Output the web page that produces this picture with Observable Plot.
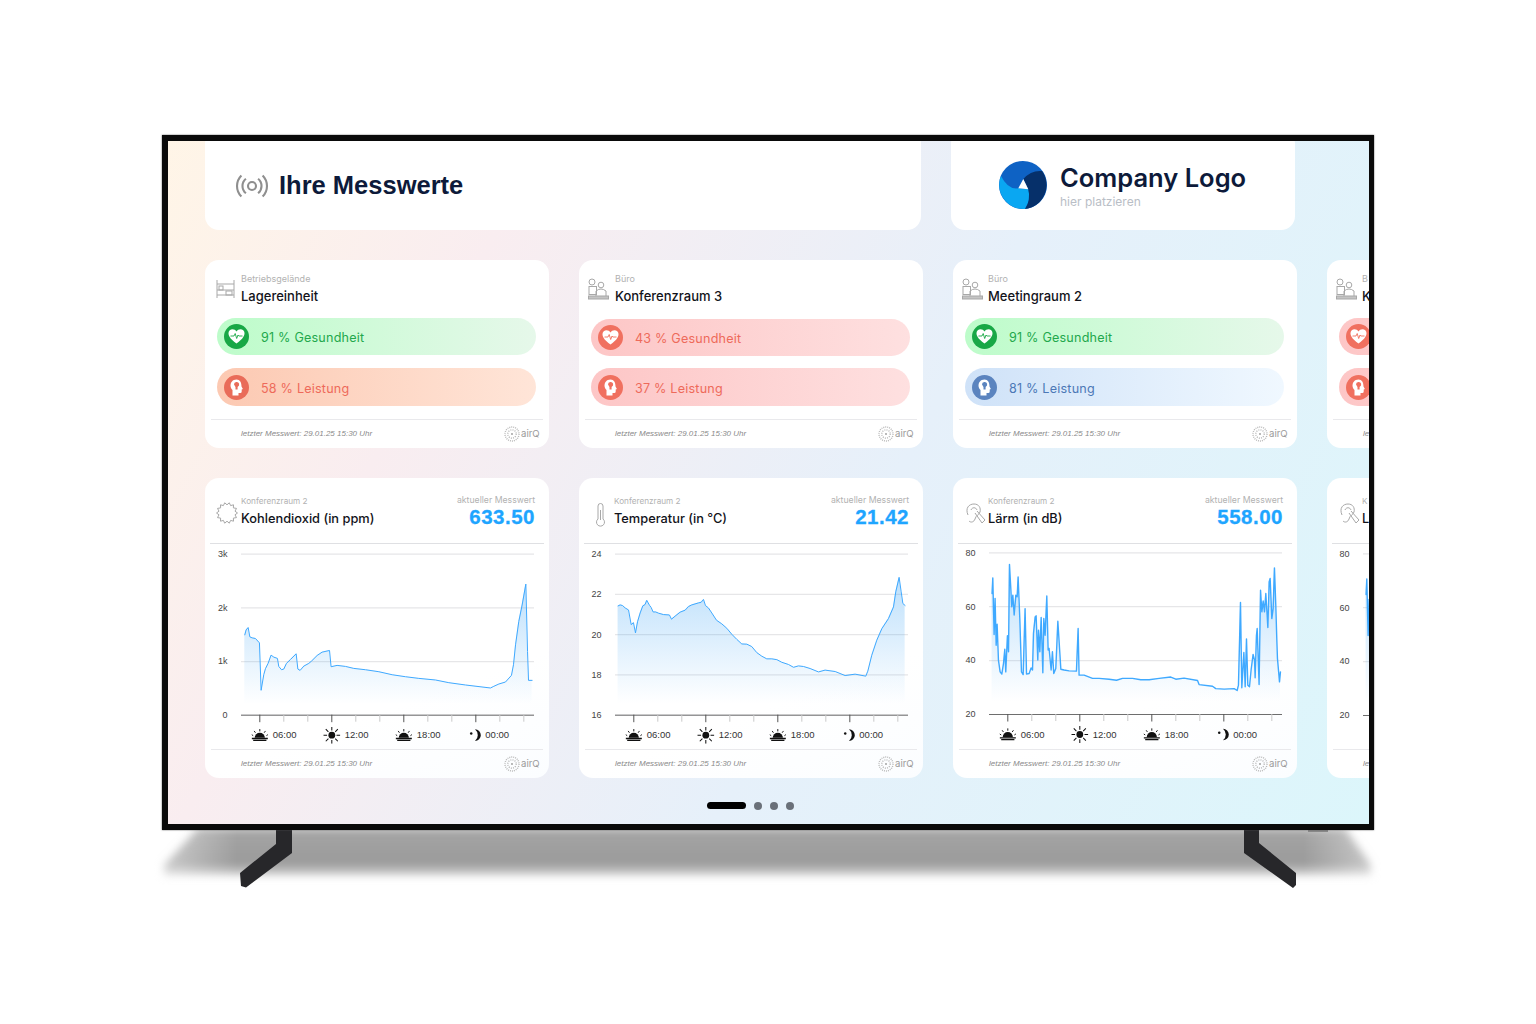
<!DOCTYPE html>
<html lang="de">
<head>
<meta charset="utf-8">
<title>Ihre Messwerte</title>
<script src="https://cdn.jsdelivr.net/npm/d3@7"></script>
<script src="https://cdn.jsdelivr.net/npm/@observablehq/plot@0.6"></script>
<style>
html,body{margin:0;background:#fff;width:1536px;height:1024px;overflow:hidden}
#page{position:absolute;left:0;top:0;width:1536px;height:1024px;font-family:Inter,"Noto Sans",sans-serif}
.abs,.t{position:absolute}
.t{white-space:nowrap;line-height:1}
.plot{position:absolute;width:345px}
.plot svg{display:block;overflow:hidden;max-width:none}
</style>
</head>
<body>
<div id="page"></div>
<script>
// ---- chart data (hour of day; 24+ is the following day) ----
const co2Hours = [4.75,4.86,5.03,5.17,5.36,5.64,5.97,6.11,6.33,6.47,6.69,6.94,7.17,7.47,7.58,7.81,8.0,8.22,8.56,9.03,9.17,9.36,9.67,10.08,10.31,10.78,11.19,11.81,11.94,12.44,13.14,13.83,14.81,15.92,17.03,18.14,19.25,20.64,21.75,23.14,25.22,25.5,25.92,26.47,26.97,27.14,27.31,27.58,27.86,28.17,28.31,28.39,28.69];
const co2Values = [1497,1589,1633,1460,1441,1429,1348,464,754,866,965,1119,1082,1058,909,847,860,965,1039,1144,860,835,915,965,1008,1113,1175,1206,903,928,909,872,847,810,754,717,686,656,606,563,507,538,581,618,742,940,1311,1744,2053,2443,1187,649,649];

const tempHours = [4.69,4.86,5.06,5.28,5.56,5.78,5.97,6.14,6.31,6.53,6.75,6.94,7.08,7.31,7.44,7.61,7.83,8.06,8.47,8.97,9.14,9.44,9.86,10.28,10.56,10.83,11.39,11.61,11.81,11.97,12.22,12.5,12.89,13.33,13.75,14.17,14.58,15.0,15.42,15.83,16.25,16.67,17.08,17.5,17.92,18.33,18.89,19.31,19.72,20.14,20.69,21.39,21.94,22.78,23.61,24.44,25.33,25.5,25.83,26.25,26.67,27.22,27.64,27.83,28.11,28.28,28.42,28.61];
const tempValues = [21.43,21.48,21.45,21.33,21.23,20.5,20.6,20.09,20.64,21.08,21.43,21.5,21.71,21.46,21.36,21.13,21.13,21.07,21.0,20.98,20.77,20.92,21.12,21.22,21.4,21.48,21.58,21.61,21.75,21.45,21.33,21.08,20.72,20.54,20.32,20.02,19.77,19.54,19.53,19.41,19.11,18.93,18.8,18.8,18.76,18.63,18.52,18.38,18.45,18.42,18.32,18.15,18.24,18.17,17.97,18.04,17.94,18.19,18.98,19.73,20.3,20.8,21.38,22.13,22.85,22.13,21.55,21.45];

const noiseHours = [4.69,4.75,4.86,4.94,5.03,5.11,5.22,5.36,5.5,5.64,5.75,5.83,5.97,6.06,6.14,6.25,6.33,6.42,6.53,6.67,6.78,6.86,7.0,7.14,7.28,7.44,7.56,7.78,7.94,8.06,8.14,8.28,8.36,8.5,8.56,8.67,8.78,8.92,9.0,9.11,9.25,9.36,9.44,9.61,9.72,9.83,10.0,10.17,10.33,10.42,10.69,11.11,11.72,11.86,11.94,12.36,13.06,13.61,14.44,15.06,15.56,16.39,17.08,17.78,18.61,19.58,20.0,20.69,21.81,21.94,23.06,23.33,24.03,24.86,25.11,25.22,25.39,25.5,25.67,25.78,25.89,26.0,26.14,26.28,26.44,26.56,26.61,26.72,26.78,26.94,27.06,27.17,27.28,27.39,27.5,27.67,27.78,27.86,28.0,28.11,28.22,28.33,28.42,28.47,28.64,28.72];
const noiseValues = [64.9,70.7,49.7,63.1,45.7,53.5,40.2,35.8,35.0,38.9,44.2,35.8,49.2,43.3,75.7,66.8,60,64.3,56.9,64.3,63.7,71,55.6,35.8,34.8,59.3,35,35.2,37.3,36.5,50.1,56.2,56.6,40.2,51.3,43.3,56,35.5,55.6,49.4,64,43.9,44.5,36.5,43.3,35.2,37.1,54.6,43.3,36.8,36.5,36.2,36.1,51.9,34.6,34.6,33.4,33.4,33.1,32.7,33.4,33.4,32.9,32.9,33.4,33.9,33.1,33.5,32.6,31.1,30.5,29.6,29.4,29.6,28.9,30.9,61.6,29.9,43,30.3,48,30.9,30.3,36.8,42.3,40.2,33.6,49.4,51.9,31.1,66.1,58.1,62.1,58.1,64.9,52.3,69.2,70.5,55.6,59.3,74.4,60.6,47.2,40.8,32.1,35.8];

const majorHours = [6,12,18,24];
const minorHours = [8,10,14,16,20,22,26,28];
const clockLabels = ["06:00","12:00","18:00","00:00"];
const co2Ticks = [0,1000,2000,3000];
const co2TickLabels = ["0","1k","2k","3k"];
const tempTicks = [16,18,20,22,24];
const noiseTicks = [20,40,60,80];

// ---- card texts ----
const roomKickers = ["Betriebsgelände","Büro","Büro","B"];
const roomTitles = ["Lagereinheit","Konferenzraum 3","Meetingraum 2","K"];
const healthPercents = [91,43,91];
const performancePercents = [58,37,81];
const chartKickers = ["Konferenzraum 2","Konferenzraum 2","Konferenzraum 2","K"];
const chartTitles = ["Kohlendioxid (in ppm)","Temperatur (in °C)","Lärm (in dB)","L"];
const currentReadings = ["633.50","21.42","558.00"];
const footerText = "letzter Messwert: 29.01.25 15:30 Uhr";

// ---- styles ----
const lineBlue = "#3fa9ff";
const tones = {
  green:{from:"#bdfcca",to:"#e6f8ea",dot:"#18a846",ink:"#22a84c"},
  orange:{from:"#fcc9b2",to:"#ffe5d8",dot:"#e96c59",ink:"#ee6a5a"},
  red:{from:"#fdc6c6",to:"#fee0e0",dot:"#f0705f",ink:"#ee6a5a"},
  blue:{from:"#cfe2f8",to:"#f0f8ff",dot:"#5b84bf",ink:"#4c78b6"}
};
const toneOf = p => p >= 70 ? (p >= 85 ? "green" : "blue") : (p >= 50 ? "orange" : "red");

// ---- page scaffolding ----
const page = document.getElementById("page");
const screen_ = document.createElement("div");
screen_.className = "abs";
screen_.style.cssText = "left:0;top:0;width:1536px;height:1024px;clip-path:inset(141px 167px 200px 168px)";

function add(parent, html){ parent.insertAdjacentHTML("beforeend", html); }
function box(l,t,w,h,css){ return `<div class="abs" style="left:${l}px;top:${t}px;width:${w}px;height:${h}px;${css||""}"></div>`; }
function txt(s,l,t,css,right){
  const pos = right ? `right:${1536-l}px` : `left:${l}px`;
  return `<div class="t" style="${pos};top:${t}px;${css}">${s}</div>`;
}
function svgAt(l,t,w,h,inner,extra){
  return `<svg class="abs" style="left:${l}px;top:${t}px;overflow:visible" width="${w}" height="${h}" viewBox="0 0 ${w} ${h}" ${extra||""}>${inner}</svg>`;
}

// stand, shadow, bezel
add(page, svgAt(140,820,1260,90,`
  <defs><filter id="blur" x="-5%" y="-30%" width="110%" height="160%"><feGaussianBlur stdDeviation="4"/></filter>
  <linearGradient id="shade" x1="0" y1="0" x2="0" y2="1"><stop offset="0" stop-color="#a6a6a6"/><stop offset=".75" stop-color="#9a9a9a"/><stop offset="1" stop-color="#cfcfcf"/></linearGradient>
  <linearGradient id="fadeX" x1="0" y1="0" x2="1" y2="0"><stop offset="0" stop-color="#fff" stop-opacity=".55"/><stop offset=".07" stop-color="#fff" stop-opacity="0"/><stop offset=".93" stop-color="#fff" stop-opacity="0"/><stop offset="1" stop-color="#fff" stop-opacity=".55"/></linearGradient></defs>
  <path d="M58,8 L1205,8 L1231,45 L1231,55 L24,55 L24,45 Z" fill="url(#shade)" filter="url(#blur)"/>
  <rect x="10" y="0" width="1240" height="70" fill="url(#fadeX)"/>
  <path d="M136,8 L152,8 L152,33 L106,67.5 L101,66 L100,53 L136,24 Z" fill="#27272a"/>
  <path d="M1104,8 L1119,8 L1119,23 L1156,53 L1156,65 L1153,68 L1104,33 Z" fill="#27272a"/>
  <rect x="1168" y="8" width="20" height="4" fill="#8a8a8a"/>`));
add(page, box(162,135,1212,695,"background:#0a0a0a;box-shadow:0 0 1.5px #555"));
add(page, box(168,141,1201,683,"background:linear-gradient(118deg,#fff5e7 0%,#f9edf0 24%,#e6f0fa 58%,#dcf6fb 100%)"));
page.appendChild(screen_);

// header cards
add(screen_, box(205,130,716,100,"background:#fff;border-radius:14px"));
add(screen_, box(951,130,344,100,"background:#fff;border-radius:14px"));
add(screen_, svgAt(234,170,36,32,`<g fill="none" stroke="#8f8f8f" stroke-width="2.1">
  <circle cx="18" cy="16" r="4"/>
  <path d="M11.9,8.7 A9.5,9.5 0 0 0 11.9,23.3"/><path d="M24.1,8.7 A9.5,9.5 0 0 1 24.1,23.3"/>
  <path d="M7.4,5.4 A15,15 0 0 0 7.4,26.6"/><path d="M28.6,5.4 A15,15 0 0 1 28.6,26.6"/></g>`));
add(screen_, txt("Ihre Messwerte",279,171,"font:700 25.5px 'Liberation Sans',sans-serif;color:#0d1a3a"));
add(screen_, svgAt(998,160,50,50,`<circle cx="25" cy="25" r="24" fill="#0e62c4"/>
  <path d="M20.3,28.3 Q10,30 3,16 A24,24 0 0 0 27,48.9 Q33,40 30.3,29.3 Z" fill="#0aa7f2"/>
  <path d="M25.3,19 Q33,10 44,11 A24,24 0 0 1 27,48.9 Q33,40 30.3,29.3 Z" fill="#06306a"/>
  <path d="M20.3,28.3 L25.3,19 L30.3,29.3 Z" fill="#fff"/>`));
add(screen_, txt("Company Logo",1060,162,"font:600 25.5px Inter,sans-serif;color:#0d1a3a"));
add(screen_, txt("hier platzieren",1060,194,"font:400 12px Inter,sans-serif;color:#b9bec6"));

// small icons
function gearPath(cx,cy,r1,r2,n){
  let s="";
  for(let i=0;i<n*2;i++){const a=i*Math.PI/n, r=i%2?r2:r1; s+=(i?"L":"M")+(cx+r*Math.cos(a)).toFixed(1)+","+(cy+r*Math.sin(a)).toFixed(1);}
  return s+"Z";
}
const stroke = 'fill="none" stroke="#a8a8a8" stroke-width="1"';
const shelfIcon = `<g ${stroke} stroke-width="1.3"><path d="M2,1 V19 M19,1 V19 M2,5 H19 M2,11 H19 M2,16 H19"/><rect x="4" y="7" width="4" height="4"/><rect x="11" y="12" width="6" height="4"/></g>`;
const deskIcon = `<g ${stroke}><circle cx="3" cy="4" r="3"/><rect x="0" y="8.5" width="7.5" height="8"/><circle cx="12" cy="7" r="2.8"/><path d="M7,18 V13 Q12,9 17,13 V18"/><rect x="-.5" y="18" width="20" height="3" fill="#c4c4c4"/></g>`;
const gearIcon = `<path d="${gearPath(11,11,10.5,8.2,14)}" ${stroke}/>`;
const thermoIcon = `<g ${stroke}><path d="M8,17 V4 a2.5,2.5 0 0 1 5,0 V17 a4,4 0 1 1 -5,0 Z"/><path d="M10.5,8 V18"/></g>`;
const earIcon = `<g ${stroke}><path d="M4,13 C1,6 5,2 10,2 C15,2 17,6 16,10 C15,13 12,13 11,17 C10,20 7,21 5,19"/><path d="M7,8 C8,5 12,5 13,8"/><path d="M11,11 L18,21 L21,18 L13,9"/></g>`;
const heartGlyph = `<path d="M12,19 C5,14 4,11 4,8.5 C4,6 6,4.7 8,4.7 C9.7,4.7 11,5.6 12,7 C13,5.6 14.3,4.7 16,4.7 C18,4.7 20,6 20,8.5 C20,11 19,14 12,19 Z" fill="#fff"/><path d="M6,11.5 H9.5 L10.7,9 L12.2,14 L13.5,10.5 L14.3,11.5 H18" fill="none" stroke="currentColor" stroke-width=".9"/>`;
const headGlyph = `<path d="M12,4 C8,4 6,7 6,10 C6,12 7,13.5 8,14.5 V20 H14 V17.5 H16 C17,17.5 17.2,16.5 17.2,15.5 V14 L18.4,13.6 L17,11 C17,7 15.5,4 12,4 Z" fill="#fff"/><path d="M9.5,9 a2.6,2.6 0 1 1 3.6,2.4 V14 H11 V11.4" fill="currentColor"/>`;

function airQ(x,y){
  return svgAt(x,y-8,16,16,`<g fill="none" stroke="#b9b9b9"><circle cx="8" cy="8" r="7" stroke-width="1.4" stroke-dasharray="1 1"/><circle cx="8" cy="8" r="4.2" stroke-width="1.4" stroke-dasharray="1 1.2"/></g><circle cx="8" cy="8" r=".9" fill="#999"/>`)
       + txt("airQ",x+17,y-5.5,"font:400 9.6px Inter,sans-serif;color:#9a9a9a");
}
const footFont = "font:italic 400 8px 'Liberation Sans',sans-serif;color:#8a8a8a";
function footer(x,lineY,textY,full){
  let s = box(x+6,lineY,332,1,"background:#e9e9ec");
  if(full!==false){
    s += txt(footerText,x+36,textY,footFont);
    s += airQ(x+299,textY+4.5);
  } else {
    s += txt("le",x+36,textY,footFont);
  }
  return s;
}

// top row of cards
const topLeft = [205,579,953,1327];
const topIcons = [shelfIcon,deskIcon,deskIcon,deskIcon];
const chipShift = [0,1,0,0];
const topTextX = [36,36,35,35];
topLeft.forEach((x,i)=>{
  add(screen_, box(x,260,344,188,"background:#fff;border-radius:14px"));
  add(screen_, svgAt(x+10,i===0?279:278,22,22,topIcons[i]));
  add(screen_, txt(roomKickers[i],x+topTextX[i],272.5,"font:400 9px Inter,sans-serif;color:#b2b2b2"));
  add(screen_, txt(roomTitles[i],x+topTextX[i],288,"font:500 13px Inter,sans-serif;color:#12131a"));
  const pair = i<3
    ? [{g:heartGlyph,p:healthPercents[i],w:"Gesundheit"},{g:headGlyph,p:performancePercents[i],w:"Leistung"}]
    : [{g:heartGlyph,tone:"red"},{g:headGlyph,tone:"red"}];
  pair.forEach((c,j)=>{
    const tone = tones[c.tone || toneOf(c.p)];
    const y = (j===0 ? 317.5 : 368) + (j===0?chipShift[i]:0);
    const h = j===0 ? 37.5 : 38;
    add(screen_, box(x+12,y,319,h,`background:linear-gradient(90deg,${tone.from},${tone.to});border-radius:19px`));
    add(screen_, svgAt(x+18.5,y+6.5,25,25,`<circle cx="12.5" cy="12.5" r="12.5" fill="${tone.dot}"/><g transform="translate(.5 .5)" color="${tone.dot}">${c.g}</g>`));
    if(c.p!==undefined) add(screen_, txt(`${c.p} % ${c.w}`,x+56,y+12.5,`font:400 12.6px Inter,sans-serif;letter-spacing:.2px;color:${tone.ink}`));
  });
  add(screen_, footer(x,418.5,429,i<3));
});

// bottom row of cards
const chartLeft = [205,579,953,1327];
const chartIcons = [gearIcon,thermoIcon,earIcon,earIcon];
const chartTextX = [36,35,35,35];
chartLeft.forEach((x,i)=>{
  add(screen_, box(x,478,344,300,"background:linear-gradient(160deg,#fff 70%,#fbfdff);border-radius:14px"));
  add(screen_, svgAt(x+11,502,24,24,chartIcons[i]));
  add(screen_, txt(chartKickers[i],x+chartTextX[i],495.5,"font:400 8.2px Inter,sans-serif;color:#b2b2b2"));
  add(screen_, txt(chartTitles[i],x+chartTextX[i],510.5,"font:500 12.8px Inter,sans-serif;color:#12131a"));
  if(i<3){
    add(screen_, txt("aktueller Messwert",x+330,494.5,"font:400 8.7px Inter,sans-serif;color:#b2b2b2",true));
    add(screen_, txt(currentReadings[i],x+330,505,"font:700 20.5px 'Liberation Sans',sans-serif;letter-spacing:.5px;color:#1ea5ff;-webkit-text-stroke:.3px #1ea5ff",true));
  }
  add(screen_, box(x+5,543,334,1,"background:#dfe0e3"));
  add(screen_, footer(x,748.5,759,i<3));
});

// pager
add(screen_, box(707,802,39,7,"background:#000;border-radius:4px"));
[758,774,790].forEach(cx=>add(screen_, box(cx-4,801.5,8,8,"background:#6a7079;border-radius:50%")));

// ---- clock icons as images in the axis row ----
const svgUri = (w,h,body)=>"data:image/svg+xml,"+encodeURIComponent(`<svg xmlns="http://www.w3.org/2000/svg" viewBox="0 0 ${w} ${h}">${body}</svg>`);
const horizonIcon = svgUri(18,18,`<path d="M0.5,12.5 H17.5 M2,14.5 H16" stroke="#111" stroke-width="1.4"/><path d="M3.6,11.8 a5.4,5.4 0 0 1 10.8,0 Z" fill="#111"/><path d="M9,5 V2.5 M4.4,6.4 L3,4.5 M13.6,6.4 L15,4.5 M2,9.5 L0.4,8.4 M16,9.5 L17.6,8.4" stroke="#111" stroke-width="1"/>`);
const sunIcon = svgUri(18,18,`<circle cx="9" cy="9" r="3.6" fill="#111"/><path d="M9,0 V4 M9,14 V18 M0,9 H4 M14,9 H18 M2.6,2.6 L5.4,5.4 M12.6,12.6 L15.4,15.4 M2.6,15.4 L5.4,12.6 M12.6,5.4 L15.4,2.6" stroke="#111" stroke-width="1.1"/>`);
const moonIcon = svgUri(18,18,`<path d="M8,2 A7,7 0 1 1 8,16 A9,9 0 0 0 8,2 Z" fill="#111"/><circle cx="3.5" cy="7" r="1.5" fill="#111"/>`);
const clockIcons = [horizonIcon,sunIcon,horizonIcon,moonIcon];

function chart({hours,values,yMin,yMax,ticks,fmt,left,yTop,yBottom,sw,id,clock=true}){
  const rows = hours.map((h,i)=>({h,v:values[i]}));
  const top = 540, bottom = 745;
  const clockMarks = clock ? [
      Plot.image(majorHours,{x:d=>d,src:(d,i)=>clockIcons[i],frameAnchor:"bottom",dy:20,width:d=>d===24?15:17,height:d=>d===24?15:17}),
      Plot.text(majorHours,{x:d=>d,text:(d,i)=>clockLabels[i],frameAnchor:"bottom",dy:23,dx:13,textAnchor:"start",fontSize:9.5,fill:"#333",filter:d=>d!==24}),
      Plot.text(majorHours,{x:d=>d,text:(d,i)=>clockLabels[i],frameAnchor:"bottom",dy:23,dx:9.5,textAnchor:"start",fontSize:9.5,fill:"#333",filter:d=>d===24})
  ] : [];
  const el = Plot.plot({
    width:345, height:bottom-top,
    marginLeft:36, marginRight:16, marginTop:yTop-top, marginBottom:bottom-yBottom,
    style:{background:"transparent",fontFamily:"'Liberation Sans',sans-serif",fontSize:"9px",color:"#444",overflow:"hidden",maxWidth:"none"},
    x:{domain:[4.475,28.89]},
    y:{domain:[yMin,yMax]},
    marks:[
      ()=>{const d=document.createElementNS("http://www.w3.org/2000/svg","defs");
        d.innerHTML=`<linearGradient id="${id}" x1="0" y1="0" x2="0" y2="1"><stop offset="0" stop-color="#2196f3" stop-opacity=".3"/><stop offset=".92" stop-color="#2196f3" stop-opacity="0"/></linearGradient>`;return d;},
      Plot.gridY(ticks,{stroke:"#e6e6e8",strokeOpacity:1,strokeWidth:1.2}),
      Plot.areaY(rows,{x:"h",y1:yMin,y2:"v",fill:`url(#${id})`}),
      Plot.lineY(rows,{x:"h",y:"v",stroke:lineBlue,strokeWidth:sw}),
      Plot.ruleY([yMin],{stroke:"#6e6e6e",strokeWidth:1}),
      Plot.axisY(ticks,{tickSize:0,tickPadding:14,tickFormat:fmt,fontSize:9,fill:"#444",label:null}),
      Plot.axisX(majorHours,{tickSize:7.5,tickFormat:()=>"",stroke:"#555",label:null}),
      Plot.axisX(minorHours,{tickSize:7,tickFormat:()=>"",stroke:"#c9c9c9",label:null}),
      ...clockMarks
    ]
  });
  const wrap=document.createElement("div");
  wrap.className="plot";
  wrap.style.cssText=`left:${left}px;top:${top}px`;
  wrap.appendChild(el);
  screen_.appendChild(wrap);
}

chart({hours:co2Hours,values:co2Values,yMin:0,yMax:3000,ticks:co2Ticks,fmt:(d)=>co2TickLabels[co2Ticks.indexOf(d)],left:205,yTop:553.7,yBottom:714.7,sw:1,id:"g1"});
chart({hours:tempHours,values:tempValues,yMin:16,yMax:24,ticks:tempTicks,fmt:d=>String(d),left:579,yTop:553.7,yBottom:714.7,sw:1,id:"g2"});
chart({hours:noiseHours,values:noiseValues,yMin:20,yMax:80,ticks:noiseTicks,fmt:d=>String(d),left:953,yTop:552.3,yBottom:714,sw:1.4,id:"g3"});
chart({hours:noiseHours,values:noiseValues,yMin:20,yMax:80,ticks:noiseTicks,fmt:d=>String(d),left:1327,yTop:553.3,yBottom:715,sw:1.4,id:"g4",clock:false});
</script>
</body>
</html>
